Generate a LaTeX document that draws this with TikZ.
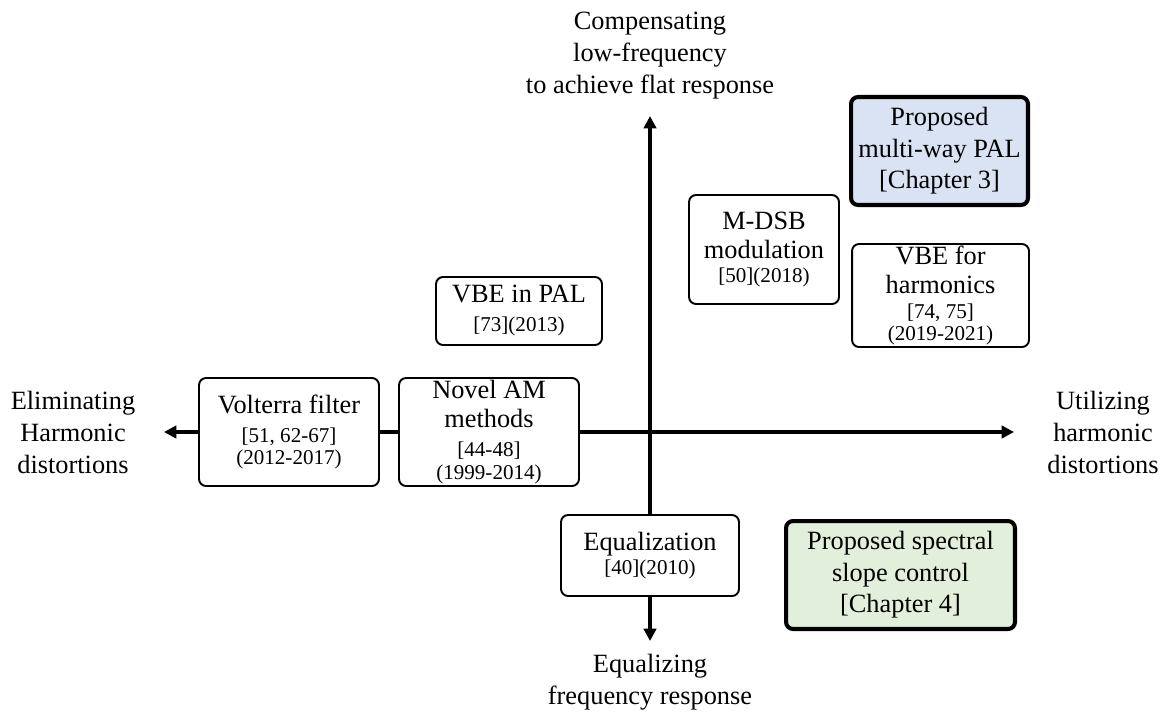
\documentclass[tikz,border=0pt]{standalone}
\usepackage{fontspec}
\setmainfont{Liberation Serif}
\usepackage{tikz}
\usetikzlibrary{arrows.meta}
\definecolor{Ink}{HTML}{000000}
\definecolor{PropBlue}{HTML}{DAE3F3}
\definecolor{PropGreen}{HTML}{E2EFDA}
\newcommand{\refsz}[1]{{\fontsize{12}{14}\selectfont #1}}

\begin{document}
\begin{tikzpicture}[x=0.02cm,y=-0.02cm,
  axis/.style={draw=Ink,line width=1.9pt,{Triangle[length=7pt,width=7pt]}-{Triangle[length=7pt,width=7pt]}},
  lbl/.style={align=center,inner sep=0pt,font=\fontsize{15}{18.2}\selectfont},
  box/.style={draw=Ink,fill=white,line width=1.1pt,rounded corners=4pt,align=center,inner sep=0pt,
    font=\fontsize{15}{16.5}\selectfont,execute at begin node={\rule{0pt}{16pt}}},
  propbox/.style={box,line width=2.3pt,font=\fontsize{15}{18}\selectfont}]
\useasboundingbox (0,0) rectangle (1168,711);
% axes
\coordinate (top) at (650,116);
\coordinate (bottom) at (650,641);
\coordinate (left) at (164,432);
\coordinate (right) at (1014,432);
\draw[axis] (bottom) -- (top);
\draw[axis] (left) -- (right);
% axis labels
\node[lbl] (toplbl) at (650,56) {Compensating\\low-frequency\\to achieve flat response};
\node[lbl] (botlbl) at (650,682) {Equalizing\\frequency response};
\node[lbl] (leftlbl) at (73,432) {Eliminating\\Harmonic\\distortions};
\node[lbl] (rightlbl) at (1103,432) {Utilizing\\harmonic\\distortions};
% methods
\node[propbox,fill=PropBlue,minimum width=3.54cm,minimum height=2.16cm] (pal) at (939.5,151) {Proposed\\multi-way PAL\\{[}Chapter 3{]}};
\node[box,minimum width=3.0cm,minimum height=2.18cm] (mdsb) at (764,249.5) {M-DSB\\modulation\\[-2.5pt]\refsz{[50](2018)}};
\node[box,minimum width=3.54cm,minimum height=2.06cm] (vbeharm) at (940.5,295.5) {VBE for\\harmonics\\[-2.5pt]\refsz{[74, 75]}\\[-4pt]\refsz{(2019-2021)}};
\node[box,minimum width=3.32cm,minimum height=1.36cm] (vbepal) at (519,311) {VBE in PAL\\\refsz{[73](2013)}};
\node[box,minimum width=3.6cm,minimum height=2.16cm] (volterra) at (289,432) {Volterra filter\\\refsz{[51, 62-67]}\\[-4pt]\refsz{(2012-2017)}};
\node[box,minimum width=3.6cm,minimum height=2.16cm] (novelam) at (489,432) {Novel AM\\methods\\\refsz{[44-48]}\\[-3pt]\refsz{(1999-2014)}};
\node[box,minimum width=3.56cm,minimum height=1.62cm] (equal) at (650,555.5) {Equalization\\[-2.5pt]\refsz{[40](2010)}};
\node[propbox,fill=PropGreen,minimum width=4.58cm,minimum height=2.16cm] (slope) at (900.5,575) {Proposed spectral\\slope control\\{[}Chapter 4{]}};
\end{tikzpicture}
\end{document}
